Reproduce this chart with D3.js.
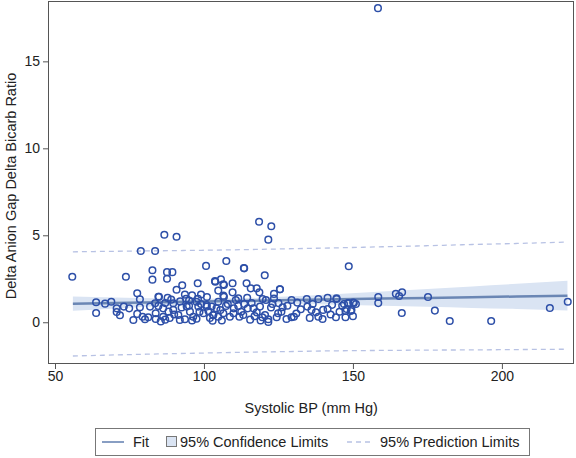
<!DOCTYPE html>
<html><head><meta charset="utf-8">
<script src="https://cdn.jsdelivr.net/npm/d3@7"></script>
<style>body{margin:0;background:#fff}svg{display:block;font-family:"Liberation Sans",Arial,sans-serif}</style>
</head><body><svg id="c" width="576" height="458"></svg>
<script>
// Scatter data: systolic BP (x) vs delta ratio (y)
const bpX = [158.4,118.5,122.6,121.6,86.7,90.8,78.8,83.6,107.5,100.7,113.4,148.6,55.8,73.8,82.7,82.7,87.6,89.4,87.6,
97.9,92.7,90.8,93.6,77.6,84.9,87.8,103.8,120.4,103.7,105.7,106.5,109.6,114.3,115.7,117.7,118.6,125.5,123.5,104.8,109.6,
106.7,111.5,110.7,114.5,119.7,120.8,123.5,129.4,131.3,134.5,138.4,141.5,144.5,147.0,148.4,150.1,158.5,158.5,
134.7,136.1,137.6,138.4,139.8,140.0,141.5,144.3,146.4,147.5,149.5,147.5,130.2,129.4,126.4,124.9,124.4,127.7,121.6,121.6,
119.6,117.7,116.6,114.7,113.2,111.9,109.9,108.7,106.5,104.8,103.1,102.9,100.9,102.6,107.4,111.5,104.8,120.5,118.8,
164.4,165.5,166.5,166.4,175.2,177.5,182.5,196.4,216.1,222.1,
63.8,63.8,66.8,68.9,70.7,70.7,71.8,73.1,74.9,76.3,77.6,78.5,79.4,80.2,81.3,81.9,83.6,84.7,86.3,83.8,83.8,86.3,88.1,89.7,
89.7,91.4,93.6,91.9,94.2,95.3,97.5,98.1,99.8,100.9,103.1,104.2,96.4,78.5,84.7,
85.5,87.0,88.5,90.0,92.5,95.0,96.0,97.5,98.5,99.0,101.5,102.0,105.5,106.0,108.0,110.0,112.5,113.5,115.5,116.0,117.0,119.0,
122.5,123.0,125.0,126.0,128.0,131.0,132.5,135.5,136.5,142.5,143.0,145.5,150.0,151.0,
144.5,148.4,150.3,147.9,149.3,96.0,99.0,101.0,98.0,95.0,92.0,89.0,87.0,94.0,106.7,106.5,113.5,125.5];
const ratioY = [18.06,5.78,5.52,4.75,5.03,4.92,4.10,4.10,3.52,3.24,3.12,3.22,2.62,2.62,2.99,2.45,2.88,2.88,2.50,
2.24,2.13,1.87,1.59,1.67,1.47,1.40,2.33,2.70,2.37,2.47,2.18,2.24,2.24,1.95,1.95,1.72,1.90,1.63,1.82,1.72,
1.47,1.38,1.28,1.41,1.34,1.28,1.36,1.28,1.13,1.34,1.34,1.40,1.34,1.05,1.09,1.13,1.45,1.10,
0.90,0.71,0.57,0.32,0.19,0.71,0.76,0.29,0.95,0.65,0.71,0.29,0.32,0.29,0.86,0.52,0.29,0.19,0.17,0.02,
0.29,0.57,0.80,0.80,0.42,0.32,0.52,0.32,0.52,0.32,0.42,0.09,0.90,0.90,0.94,0.94,1.18,0.42,0.90,
1.64,1.51,1.72,0.53,1.45,0.67,0.07,0.07,0.82,1.18,
1.15,0.53,1.07,1.18,0.80,0.59,0.40,0.90,0.80,0.13,0.48,0.86,0.32,0.17,0.29,0.90,1.09,0.94,0.80,0.52,0.19,0.32,0.61,1.09,
0.71,0.42,0.17,0.13,0.90,0.61,1.18,0.90,0.52,0.99,0.42,0.80,0.32,1.32,1.47,
0.05,0.15,0.25,0.45,0.85,0.95,0.10,0.20,0.60,1.05,0.65,0.25,0.70,0.10,1.05,0.80,0.60,1.05,0.15,1.10,0.35,0.10,
0.85,1.05,1.10,0.60,0.95,0.50,0.75,0.25,1.05,0.45,1.00,0.60,0.35,1.05,
1.38,1.11,1.11,0.76,0.65,1.55,1.60,1.45,1.35,1.25,1.20,1.30,1.10,1.35,2.14,1.53,3.10,1.90];

// Fit, confidence and prediction limits read along x
const bandX  = [56, 70, 85, 100, 115, 130, 145, 160, 175, 190, 205, 222];
const fitY   = [1.07,1.11,1.15,1.19,1.23,1.28,1.32,1.36,1.40,1.44,1.48,1.53];
const ciLow  = [0.66,0.79,0.93,1.03,1.08,1.06,1.01,0.95,0.89,0.82,0.76,0.68];
const ciHigh = [1.48,1.43,1.38,1.35,1.39,1.49,1.63,1.77,1.91,2.06,2.21,2.38];
const piLow  = [-1.94,-1.88,-1.82,-1.77,-1.72,-1.68,-1.64,-1.62,-1.60,-1.59,-1.57,-1.55];
const piHigh = [4.05,4.08,4.11,4.14,4.18,4.23,4.28,4.34,4.40,4.47,4.53,4.61];

const xTicks = [50, 100, 150, 200];
const yTicks = [0, 5, 10, 15];
const legendLabels = ["Fit", "95% Confidence Limits", "95% Prediction Limits"];

const svg = d3.select("#c");
const L = 48, T = 1, W = 526, H = 363;
const x = d3.scaleLinear().domain([47.65, 224.2]).range([L, L + W]);
const y = d3.scaleLinear().domain([-2.40, 18.47]).range([T + H, T]);

const bandData = bandX.map((v, i) => ({x: v, f: fitY[i], cl: ciLow[i], ch: ciHigh[i], pl: piLow[i], ph: piHigh[i]}));

// CI band
svg.append("path").datum(bandData)
  .attr("d", d3.area().x(d => x(d.x)).y0(d => y(d.cl)).y1(d => y(d.ch)).curve(d3.curveMonotoneX))
  .attr("fill", "#dae4f3");

// Prediction limits
["pl", "ph"].forEach(k => {
  svg.append("path").datum(bandData)
    .attr("d", d3.line().x(d => x(d.x)).y(d => y(d[k])).curve(d3.curveMonotoneX))
    .attr("fill", "none").attr("stroke", "#b8c2e4").attr("stroke-width", 1.3)
    .attr("stroke-dasharray", "5,4");
});

// Fit line
svg.append("path").datum(bandData)
  .attr("d", d3.line().x(d => x(d.x)).y(d => y(d.f)))
  .attr("fill", "none").attr("stroke", "#6a86b4").attr("stroke-width", 2.5);

// Points
svg.append("g").selectAll("circle").data(bpX.map((v, i) => [v, ratioY[i]]))
  .join("circle")
  .attr("cx", d => x(d[0])).attr("cy", d => y(d[1])).attr("r", 3.3)
  .attr("fill", "none").attr("stroke", "#2d4fa8").attr("stroke-width", 1.5);

// Frame
svg.append("rect").attr("x", L + 0.5).attr("y", T + 0.5).attr("width", W - 1).attr("height", H - 1)
  .attr("fill", "none").attr("stroke", "#555").attr("stroke-width", 1);

// Axes
const xAxis = svg.append("g").attr("transform", `translate(0,${T + H})`)
  .call(d3.axisBottom(x).tickValues(xTicks).tickSize(5).tickPadding(2));
const yAxis = svg.append("g").attr("transform", `translate(${L},0)`)
  .call(d3.axisLeft(y).tickValues(yTicks).tickSize(5).tickPadding(3));
[xAxis, yAxis].forEach(a => {
  a.select(".domain").remove();
  a.selectAll("line").attr("stroke", "#555");
  a.selectAll("text").attr("font-size", 14).attr("fill", "#222").attr("font-family", "Liberation Sans, Arial, sans-serif");
});

svg.append("text").attr("x", x(136)).attr("y", 413).attr("text-anchor", "middle")
  .attr("font-size", 14.5).attr("fill", "#222").text("Systolic BP (mm Hg)");
svg.append("text").attr("transform", `translate(16,186) rotate(-90)`).attr("text-anchor", "middle")
  .attr("font-size", 14.5).attr("fill", "#222").text("Delta Anion Gap Delta Bicarb Ratio");

// Legend
const lg = svg.append("g");
lg.append("rect").attr("x", 95.5).attr("y", 428.5).attr("width", 434).attr("height", 27)
  .attr("fill", "#fff").attr("stroke", "#777");
const ly = 442;
lg.append("line").attr("x1", 102).attr("x2", 124).attr("y1", ly).attr("y2", ly).attr("stroke", "#6a86b4").attr("stroke-width", 1.6);
lg.append("text").attr("x", 133).attr("y", ly + 5).attr("font-size", 14.5).attr("fill", "#222").text(legendLabels[0]);
lg.append("rect").attr("x", 166.5).attr("y", ly - 5.5).attr("width", 10).attr("height", 10).attr("fill", "#dae4f3").attr("stroke", "#777");
lg.append("text").attr("x", 180).attr("y", ly + 5).attr("font-size", 14.5).attr("fill", "#222").text(legendLabels[1]);
lg.append("line").attr("x1", 347).attr("x2", 374).attr("y1", ly).attr("y2", ly).attr("stroke", "#b8c2e4").attr("stroke-width", 1.3).attr("stroke-dasharray", "5,4");
lg.append("text").attr("x", 380).attr("y", ly + 5).attr("font-size", 14.5).attr("fill", "#222").text(legendLabels[2]);
</script></body></html>
